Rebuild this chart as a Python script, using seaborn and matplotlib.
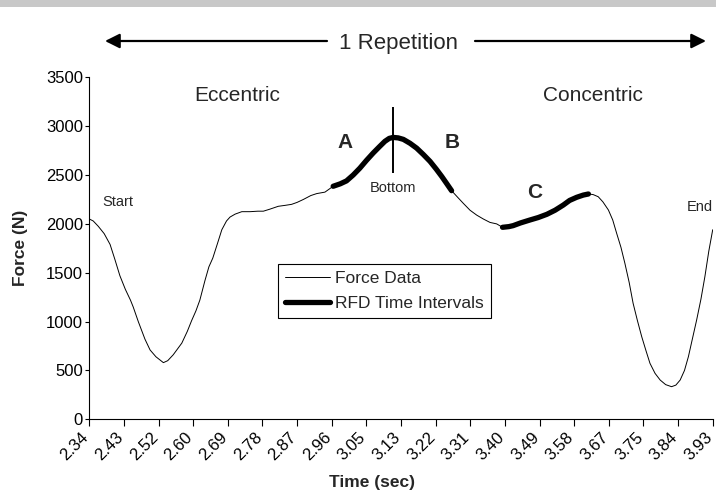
import matplotlib
matplotlib.use("Agg")
import matplotlib.pyplot as plt
from matplotlib.patches import Rectangle
from matplotlib.transforms import ScaledTranslation
import seaborn as sns
import numpy as np
import pandas as pd

# ---- data ----
time_s = [2.340, 2.350, 2.363, 2.378, 2.393, 2.405, 2.418, 2.432, 2.445, 2.452,
          2.465, 2.482, 2.495, 2.510, 2.529, 2.540, 2.554, 2.565, 2.576, 2.590,
          2.601, 2.612, 2.622, 2.635, 2.645, 2.655, 2.667, 2.678, 2.690, 2.699,
          2.712, 2.729, 2.750, 2.770, 2.784, 2.800, 2.822, 2.840, 2.856, 2.870,
          2.886, 2.905, 2.920, 2.941, 2.962, 2.980, 2.996, 3.013, 3.030, 3.047,
          3.064, 3.080, 3.094, 3.105, 3.115, 3.128, 3.141, 3.158, 3.175, 3.192,
          3.209, 3.225, 3.239, 3.252, 3.264, 3.280, 3.294, 3.311, 3.328, 3.345,
          3.362, 3.379, 3.394, 3.410, 3.421, 3.440, 3.464, 3.485, 3.507, 3.528,
          3.549, 3.565, 3.583, 3.600, 3.613, 3.625, 3.638, 3.650, 3.664, 3.675,
          3.685, 3.696, 3.706, 3.717, 3.727, 3.738, 3.749, 3.760, 3.770, 3.783,
          3.796, 3.810, 3.825, 3.836, 3.847, 3.858, 3.868, 3.878, 3.889, 3.900,
          3.910, 3.920, 3.930]
force_n = [2050, 2030, 1975, 1900, 1790, 1640, 1470, 1330, 1220, 1150,
           1000, 820, 710, 640, 580, 600, 660, 720, 780, 900,
           1010, 1110, 1220, 1420, 1560, 1650, 1800, 1940, 2030, 2070,
           2100, 2125, 2125, 2130, 2130, 2150, 2180, 2190, 2200, 2220,
           2250, 2290, 2310, 2325, 2385, 2410, 2440, 2500, 2570, 2650,
           2725, 2790, 2845, 2875, 2885, 2880, 2865, 2825, 2775, 2710,
           2640, 2560, 2485, 2410, 2340, 2270, 2210, 2140, 2090, 2050,
           2015, 2000, 1965, 1972, 1982, 2010, 2040, 2065, 2098, 2140,
           2193, 2240, 2272, 2295, 2306, 2300, 2278, 2225, 2142, 2040,
           1904, 1760, 1597, 1400, 1187, 1010, 845, 700, 573, 470,
           402, 355, 334, 350, 402, 500, 641, 820, 1016, 1230,
           1459, 1720, 1940]

rfd_start = [2.962, 3.394]
rfd_end = [3.264, 3.613]

tick_labels = ["2.34", "2.43", "2.52", "2.60", "2.69", "2.78", "2.87", "2.96",
               "3.05", "3.13", "3.22", "3.31", "3.40", "3.49", "3.58", "3.67",
               "3.75", "3.84", "3.93"]

bottom_time = 3.115
bottom_span = [2520, 3200]

df = pd.DataFrame({"Time": time_s, "Force": force_n})

# ---- style ----
sns.set_style("ticks")
plt.rcParams["font.family"] = ["Liberation Sans", "DejaVu Sans"]

fig = plt.figure(figsize=(7.16, 4.95), dpi=100)
ax = fig.add_axes([0.1247, 0.1529, 0.8707, 0.6909])

sns.lineplot(data=df, x="Time", y="Force", ax=ax, color="black", lw=0.7,
             estimator=None, sort=False, label="Force Data")
for i, (t0, t1) in enumerate(zip(rfd_start, rfd_end)):
    seg = df[(df.Time >= t0) & (df.Time <= t1)]
    sns.lineplot(data=seg, x="Time", y="Force", ax=ax, color="black", lw=3.8,
                 estimator=None, sort=False,
                 label="RFD Time Intervals" if i == 0 else "_nolegend_")

ax.vlines(bottom_time, bottom_span[0], bottom_span[1], color="black", lw=1.4)

ax.set_xlim(2.34, 3.93)
ax.set_ylim(0, 3500)
ax.set_yticks(np.arange(0, 3501, 500))
ax.set_xticks(np.linspace(2.34, 3.93, len(tick_labels)))
ax.set_xticklabels(tick_labels, rotation=45, ha="right", va="center",
                   rotation_mode="anchor")
ax.tick_params(axis="both", labelsize=12, width=0.8, colors="black")
ax.tick_params(axis="x", length=5, pad=6)
ax.tick_params(axis="y", length=3, pad=1.5)
shift = ScaledTranslation(-3 / 100, 0, fig.dpi_scale_trans)
for lbl in ax.get_xticklabels():
    lbl.set_transform(lbl.get_transform() + shift)
for s in ["top", "right"]:
    ax.spines[s].set_visible(False)
for s in ["left", "bottom"]:
    ax.spines[s].set_color("black")
    ax.spines[s].set_linewidth(0.8)

ax.set_xlabel("Time (sec)", fontsize=12.5, fontweight="bold")
ax.xaxis.set_label_coords(0.453, -0.163)
ax.set_ylabel("Force (N)", fontsize=12.5, fontweight="bold", labelpad=13)

# annotations
ax.text(2.717, 3310, "Eccentric", fontsize=15, ha="center", va="center")
ax.text(3.624, 3310, "Concentric", fontsize=15, ha="center", va="center")
ax.text(2.992, 2830, "A", fontsize=15, fontweight="bold", ha="center", va="center")
ax.text(3.265, 2830, "B", fontsize=15, fontweight="bold", ha="center", va="center")
ax.text(3.477, 2320, "C", fontsize=15, fontweight="bold", ha="center", va="center")
ax.text(2.413, 2220, "Start", fontsize=10.5, ha="center", va="center")
ax.text(3.897, 2170, "End", fontsize=10.5, ha="center", va="center")
ax.text(3.115, 2370, "Bottom", fontsize=10.5, ha="center", va="center")

leg = ax.legend(loc="upper left", bbox_to_anchor=(0.302, 0.454), fontsize=12.5,
                frameon=True, fancybox=False, edgecolor="black", framealpha=1,
                handlelength=2.6, borderpad=0.4, labelspacing=0.55,
                handletextpad=0.3, borderaxespad=0)
leg.get_frame().set_linewidth(0.8)

# top banner and repetition arrows
fig.add_artist(Rectangle((0, 1 - 7 / 495), 1, 7 / 495, transform=fig.transFigure,
                         color="#c8c8c8", lw=0))
arrow_y = 1 - 41 / 495
arrow_kw = dict(arrowstyle="-|>", lw=1.6, color="black", mutation_scale=22,
                shrinkA=0, shrinkB=0)
fig.text(399 / 716, 1 - 43 / 495, "1 Repetition", fontsize=16, ha="center",
         va="center")
ax.annotate("", xy=(105 / 716, arrow_y), xytext=(327 / 716, arrow_y),
            xycoords="figure fraction", textcoords="figure fraction",
            arrowprops=arrow_kw)
ax.annotate("", xy=(706 / 716, arrow_y), xytext=(475 / 716, arrow_y),
            xycoords="figure fraction", textcoords="figure fraction",
            arrowprops=arrow_kw)

fig.savefig("out.png", dpi=100)
